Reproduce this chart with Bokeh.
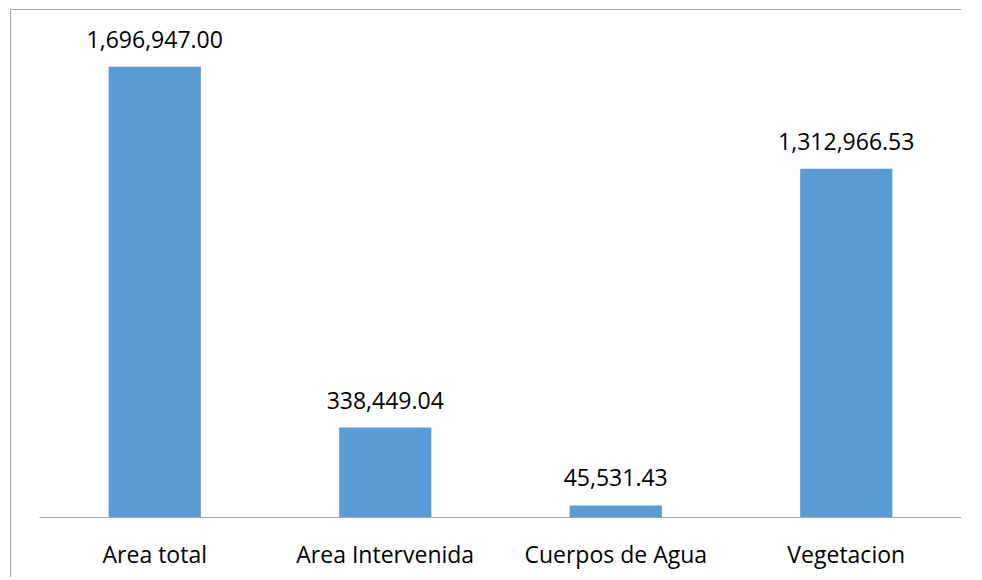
from bokeh.plotting import figure
from bokeh.layouts import column
from bokeh.models import ColumnDataSource, LabelSet, Range1d
from bokeh.core.properties import value
from bokeh.embed import file_html
from bokeh.resources import INLINE

categories = ["Area total", "Area Intervenida", "Cuerpos de Agua", "Vegetacion"]
values = [1696947.00, 338449.04, 45531.43, 1312966.53]
labels = ["1,696,947.00", "338,449.04", "45,531.43", "1,312,966.53"]

src = ColumnDataSource(dict(cat=categories, val=values, lab=labels))

# axis scale: 0..1,800,000 over 478 px; frame extended to top of canvas so labels are not clipped
y_top = 1800000 * 507 / 478

p = figure(x_range=categories, y_range=Range1d(0, y_top), width=950, height=567,
           output_backend="svg", toolbar_location=None,
           min_border_left=28, min_border_right=0, min_border_top=0, min_border_bottom=60)
p.vbar(x="cat", top="val", width=0.4, source=src, color="#5B9BD5", line_color=None)

p.add_layout(LabelSet(x="cat", y="val", text="lab", source=src, text_align="center",
                      text_baseline="alphabetic", y_offset=19, text_font=value("Open Sans"),
                      text_font_size=value("23px"), text_color="#000000"))

p.yaxis.visible = False
p.grid.visible = False
p.outline_line_color = None
p.border_fill_color = None
p.x_range.range_padding = 0
p.xaxis.axis_line_color = "#a6a6a6"
p.xaxis.major_tick_line_color = None
p.xaxis.minor_tick_line_color = None
p.xaxis.major_label_text_font = "Open Sans"
p.xaxis.major_label_text_font_size = "23px"
p.xaxis.major_label_text_color = "#000000"
p.xaxis.major_label_standoff = 14

layout = column(p, styles={"margin-left": "10px", "margin-top": "9px",
                           "border-left": "1px solid #a6a6a6",
                           "border-top": "1px solid #a6a6a6"})

open("out.html", "w").write(file_html(layout, INLINE))
